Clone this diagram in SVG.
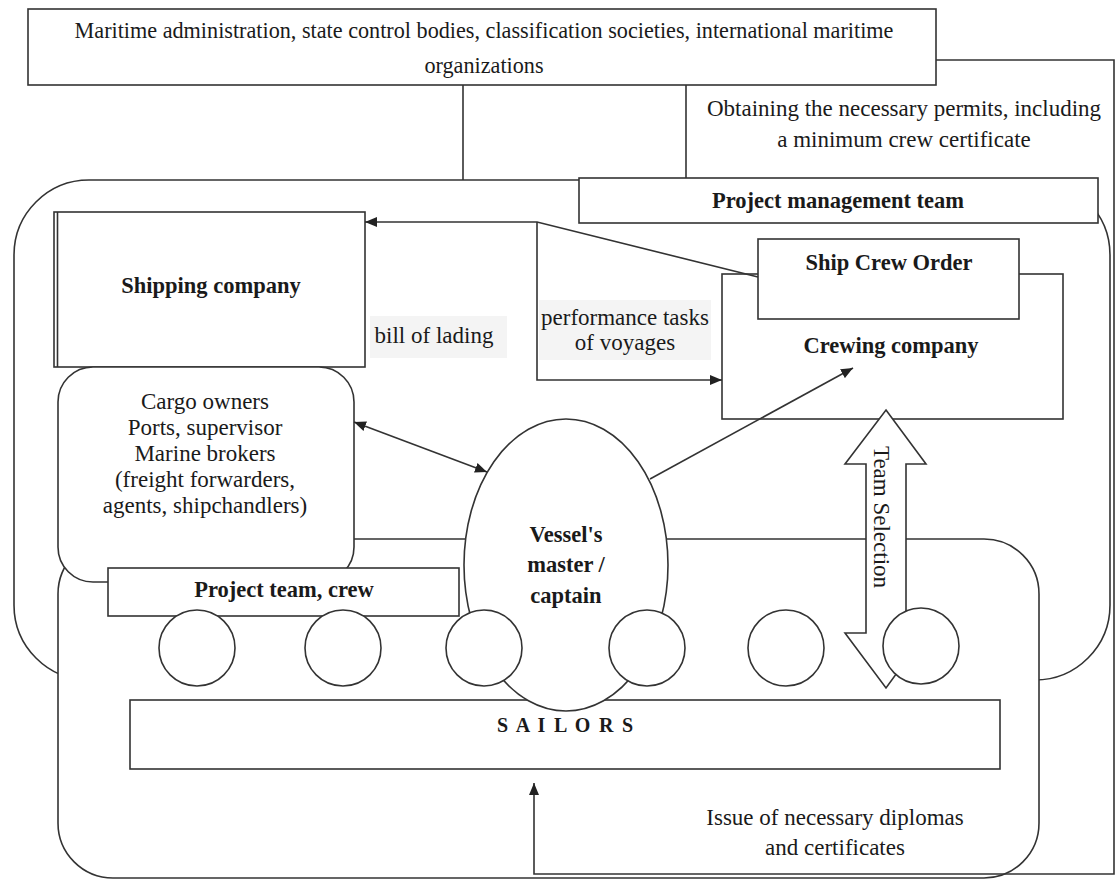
<svg xmlns="http://www.w3.org/2000/svg" width="1117" height="879" viewBox="0 0 1117 879">
<style>
.b{fill:#fff;stroke:#333;stroke-width:1.6}
.n{fill:none;stroke:#333;stroke-width:1.6}
.t{font-family:"Liberation Serif","Times New Roman",serif;font-size:23px;fill:#1a1a1a;text-anchor:middle}
.tb{font-family:"Liberation Serif","Times New Roman",serif;font-size:22.5px;font-weight:bold;fill:#1a1a1a;text-anchor:middle}
.bg{fill:#f4f4f4}
</style>
<defs>
<marker id="ah" viewBox="0 0 12 10" refX="12" refY="5" markerWidth="12" markerHeight="10" markerUnits="userSpaceOnUse" orient="auto-start-reverse">
<path d="M0,0 L12,5 L0,10 z" fill="#222"/>
</marker>
</defs>
<rect width="1117" height="879" fill="#fff"/>

<g id="project-management-area"><rect class="b" x="14" y="180" width="1096" height="500" rx="75"/></g>
<g id="project-team-area"><rect class="b" x="58" y="539" width="981" height="339" rx="55"/></g>

<g id="maritime-admin">
<rect class="b" x="28" y="9" width="908" height="76"/>
<text class="t" x="484" y="38" style="font-size:22.2px">Maritime administration, state control bodies, classification societies, international maritime</text>
<text class="t" x="484" y="73" style="font-size:22.2px">organizations</text>
</g>

<g id="permits-label">
<text class="t" x="904" y="116">Obtaining the necessary permits, including</text>
<text class="t" x="904" y="147">a minimum crew certificate</text>
</g>

<g id="project-management-team">
<rect class="b" x="579" y="178" width="519" height="45"/>
<text class="tb" x="838" y="208">Project management team</text>
</g>

<g id="shipping-company">
<rect class="b" x="54" y="212" width="311" height="155"/>
<line class="n" x1="57.5" y1="212" x2="57.5" y2="367"/>
<text class="tb" x="211" y="293">Shipping company</text>
</g>

<g id="cargo-owners">
<rect class="b" x="58" y="367" width="296" height="215" rx="35"/>
<text class="t" x="205" y="409">Cargo owners</text>
<text class="t" x="205" y="435">Ports, supervisor</text>
<text class="t" x="205" y="461">Marine brokers</text>
<text class="t" x="205" y="487">(freight forwarders,</text>
<text class="t" x="205" y="513">agents, shipchandlers)</text>
</g>

<g id="crewing-company">
<rect class="b" x="722" y="274" width="341" height="145"/>
<text class="tb" x="891" y="353">Crewing company</text>
</g>

<g id="ship-crew-order">
<rect class="b" x="758" y="239" width="261" height="80"/>
<text class="tb" x="889" y="270">Ship Crew Order</text>
</g>

<g id="sailors">
<rect class="b" x="130" y="700" width="870" height="69"/>
<text class="tb" x="566" y="732" style="font-size:20px;letter-spacing:1.8px">S A I L O R S</text>
</g>

<g id="vessel-master">
<ellipse class="b" cx="566" cy="565" rx="102" ry="146"/>
<text class="tb" x="566" y="542">Vessel's</text>
<text class="tb" x="566" y="572">master /</text>
<text class="tb" x="566" y="603">captain</text>
</g>

<g id="project-team-crew">
<rect class="b" x="108" y="568" width="351" height="48"/>
<text class="tb" x="284" y="597">Project team, crew</text>
</g>

<g id="team-selection">
<polygon class="b" points="886,410 926,464 906,464 906,633 926,633 886,688 845,633 866,633 866,464 845,464"/>
<text class="t" transform="translate(874,517) rotate(90)" x="0" y="0">Team Selection</text>
</g>

<g id="crew-members">
<circle class="b" cx="197" cy="648" r="38"/>
<circle class="b" cx="343" cy="648" r="38"/>
<circle class="b" cx="484" cy="648" r="38"/>
<circle class="b" cx="647" cy="648" r="38"/>
<circle class="b" cx="786" cy="648" r="38"/>
<circle class="b" cx="921" cy="646" r="38"/>
</g>

<g id="labels">
<rect class="bg" x="370" y="316" width="137" height="42"/>
<text class="t" x="434" y="343">bill of lading</text>
<rect class="bg" x="539" y="300" width="172" height="60"/>
<text class="t" x="625" y="325">performance tasks</text>
<text class="t" x="625" y="350">of voyages</text>
<text class="t" x="835" y="825">Issue of necessary diplomas</text>
<text class="t" x="835" y="855">and certificates</text>
</g>

<g id="connectors">
<line class="n" x1="463" y1="85" x2="463" y2="180"/>
<line class="n" x1="686" y1="85" x2="686" y2="178"/>
<polyline class="n" points="758,277 537,222 365,222" marker-end="url(#ah)"/>
<polyline class="n" points="537,222 537,380 722,380" marker-end="url(#ah)"/>
<line class="n" x1="354" y1="422" x2="487" y2="472" marker-start="url(#ah)" marker-end="url(#ah)"/>
<line class="n" x1="650" y1="479" x2="853" y2="368" marker-end="url(#ah)"/>
<polyline class="n" points="936,60 1114,60 1114,874 534,874 534,783" marker-end="url(#ah)"/>
</g>
</svg>
